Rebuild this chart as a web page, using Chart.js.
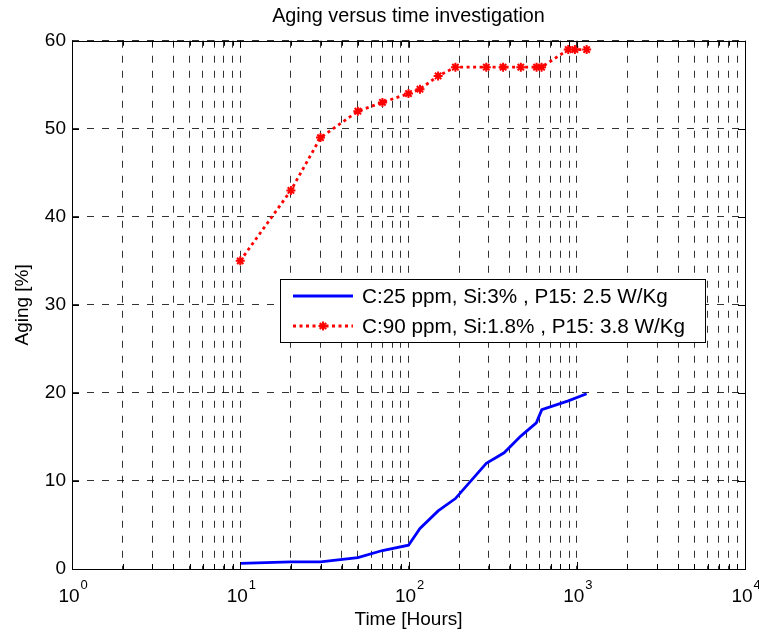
<!DOCTYPE html>
<html>
<head>
<meta charset="utf-8">
<script src="https://cdn.jsdelivr.net/npm/chart.js@4.4.1/dist/chart.umd.min.js"></script>
<style>
  html, body { margin: 0; padding: 0; background: #fff; }
  #wrap { width: 759px; height: 633px; position: relative; }
</style>
</head>
<body>
<div id="wrap"><canvas id="agingChart"></canvas></div>
<script>
const hoursLow = [10, 20, 30, 50, 70, 100, 117, 150, 190, 290, 370, 465, 575, 620, 890, 1145];
const agingLow = [0.65, 0.8, 0.8, 1.3, 2.1, 2.7, 4.6, 6.6, 8.0, 12.0, 13.2, 15.1, 16.6, 18.1, 19.1, 19.9];

const hoursHigh = [10, 20, 30, 50, 70, 100, 117, 150, 190, 290, 365, 465, 577, 618, 890, 975, 1145];
const agingHigh = [35, 43, 49, 52, 53, 54, 54.5, 56, 57, 57, 57, 57, 57, 57, 59, 59, 59];

const seriesNames = [
  'C:25 ppm, Si:3% , P15: 2.5 W/Kg',
  'C:90 ppm, Si:1.8% , P15: 3.8 W/Kg'
];
const yTicks = [0, 10, 20, 30, 40, 50, 60];
const decades = [1, 10, 100, 1000, 10000];

const FONT = "'Liberation Sans', Arial, Helvetica, sans-serif";

// 1..9 x 10^k grid positions
const xTicks = [];
decades.forEach(d => {
  for (let s = 1; s <= 9; s++) {
    if (d * s <= 10000) xTicks.push(d * s);
  }
});

const isDecade = v => decades.includes(v);

const matlabFrame = {
  id: 'matlabFrame',
  afterDraw(chart) {
    const ctx = chart.ctx;
    const area = chart.chartArea;
    const xs = chart.scales.x;
    const ys = chart.scales.y;
    ctx.save();

    // box
    ctx.strokeStyle = '#000';
    ctx.lineWidth = 1;
    ctx.strokeRect(Math.round(area.left) + 0.5, Math.round(area.top) + 0.5,
      Math.round(area.right - area.left), Math.round(area.bottom - area.top));

    // inward ticks
    ctx.beginPath();
    xTicks.forEach(v => {
      const px = Math.round(xs.getPixelForValue(v)) + 0.5;
      const len = isDecade(v) ? 7 : 5;
      ctx.moveTo(px, area.bottom); ctx.lineTo(px, area.bottom - len);
      ctx.moveTo(px, area.top); ctx.lineTo(px, area.top + len);
    });
    yTicks.forEach(v => {
      const py = Math.round(ys.getPixelForValue(v)) + 0.5;
      ctx.moveTo(area.left, py); ctx.lineTo(area.left + 7, py);
      ctx.moveTo(area.right, py); ctx.lineTo(area.right - 7, py);
    });
    ctx.stroke();

    // 10^n labels
    ctx.fillStyle = '#000';
    ctx.textBaseline = 'alphabetic';
    decades.forEach(d => {
      const px = xs.getPixelForValue(d);
      const exp = String(Math.round(Math.log10(d)));
      ctx.font = '19px ' + FONT;
      ctx.textAlign = 'center';
      ctx.fillText('10', px - 3, 602);
      const w = ctx.measureText('10').width;
      ctx.font = '13px ' + FONT;
      ctx.textAlign = 'left';
      ctx.fillText(exp, px - 3 + w / 2 + 1, 589);
    });

    // legend box
    const lx = 280.5, ly = 279.5, lw = 425, lh = 63;
    ctx.fillStyle = '#fff';
    ctx.fillRect(lx, ly, lw, lh);
    ctx.strokeStyle = '#000';
    ctx.lineWidth = 1;
    ctx.strokeRect(lx, ly, lw, lh);

    const rows = [296, 326];
    ctx.lineWidth = 2.8;
    ctx.strokeStyle = '#0000ff';
    ctx.beginPath();
    ctx.moveTo(293, rows[0]); ctx.lineTo(353, rows[0]);
    ctx.stroke();

    ctx.strokeStyle = '#ff0000';
    ctx.setLineDash([3, 3.5]);
    ctx.beginPath();
    ctx.moveTo(293, rows[1]); ctx.lineTo(353, rows[1]);
    ctx.stroke();
    ctx.setLineDash([]);
    ctx.lineWidth = 2;
    ctx.beginPath();
    const mx = 323, my = rows[1], r = 4.5;
    ctx.moveTo(mx - r, my); ctx.lineTo(mx + r, my);
    ctx.moveTo(mx, my - r); ctx.lineTo(mx, my + r);
    ctx.moveTo(mx - r * 0.7, my - r * 0.7); ctx.lineTo(mx + r * 0.7, my + r * 0.7);
    ctx.moveTo(mx - r * 0.7, my + r * 0.7); ctx.lineTo(mx + r * 0.7, my - r * 0.7);
    ctx.stroke();

    ctx.fillStyle = '#000';
    ctx.font = '20.7px ' + FONT;
    ctx.textAlign = 'left';
    ctx.textBaseline = 'middle';
    ctx.fillText(seriesNames[0], 362, rows[0] + 1);
    ctx.fillText(seriesNames[1], 362, rows[1] + 1);

    ctx.restore();
  }
};

const ctx = document.getElementById('agingChart').getContext('2d');
const agingChart = new Chart(ctx, {
  type: 'line',
  data: {
    datasets: [{
      label: seriesNames[0],
      data: hoursLow.map((h, i) => ({ x: h, y: agingLow[i] })),
      borderColor: '#0000ff',
      backgroundColor: '#0000ff',
      borderWidth: 2.8,
      pointRadius: 0,
      tension: 0
    }, {
      label: seriesNames[1],
      data: hoursHigh.map((h, i) => ({ x: h, y: agingHigh[i] })),
      borderColor: '#ff0000',
      backgroundColor: '#ff0000',
      borderWidth: 2.8,
      borderDash: [3, 3.5],
      pointStyle: 'star',
      pointRadius: 4.5,
      pointBorderWidth: 2,
      pointBorderColor: '#ff0000',
      tension: 0
    }]
  },
  options: {
    responsive: true,
    maintainAspectRatio: false,
    animation: false,
    layout: { padding: { top: 0, right: 14, bottom: 0, left: 0 } },
    plugins: {
      legend: { display: false },
      tooltip: { enabled: false },
      title: {
        display: true,
        fullSize: false,
        text: 'Aging versus time investigation',
        color: '#000',
        font: { family: FONT, size: 19.8, weight: 'normal' },
        padding: { top: 5, bottom: 12 }
      }
    },
    scales: {
      x: {
        type: 'logarithmic',
        min: 1,
        max: 10000,
        afterBuildTicks: scale => { scale.ticks = xTicks.map(v => ({ value: v })); },
        afterFit: scale => { scale.height = 64; },
        ticks: { autoSkip: false, display: true, callback: () => '' },
        grid: { color: 'rgba(0,0,0,0.8)', lineWidth: 1, drawTicks: false },
        border: { display: false, dash: [7, 8] },
        title: {
          display: true,
          text: 'Time [Hours]',
          color: '#000',
          font: { family: FONT, size: 19 },
          padding: { top: 0, bottom: 2 }
        }
      },
      y: {
        min: 0,
        max: 60,
        afterBuildTicks: scale => { scale.ticks = yTicks.map(v => ({ value: v })); },
        afterFit: scale => { scale.width = 72; },
        ticks: { color: '#000', font: { family: FONT, size: 19 }, padding: 6 },
        grid: { color: 'rgba(0,0,0,0.8)', lineWidth: 1, drawTicks: false },
        border: { display: false, dash: [7, 8] },
        title: {
          display: true,
          text: 'Aging [%]',
          color: '#000',
          font: { family: FONT, size: 19 },
          padding: { top: 11, bottom: 0 }
        }
      }
    }
  },
  plugins: [matlabFrame]
});
</script>
</body>
</html>
